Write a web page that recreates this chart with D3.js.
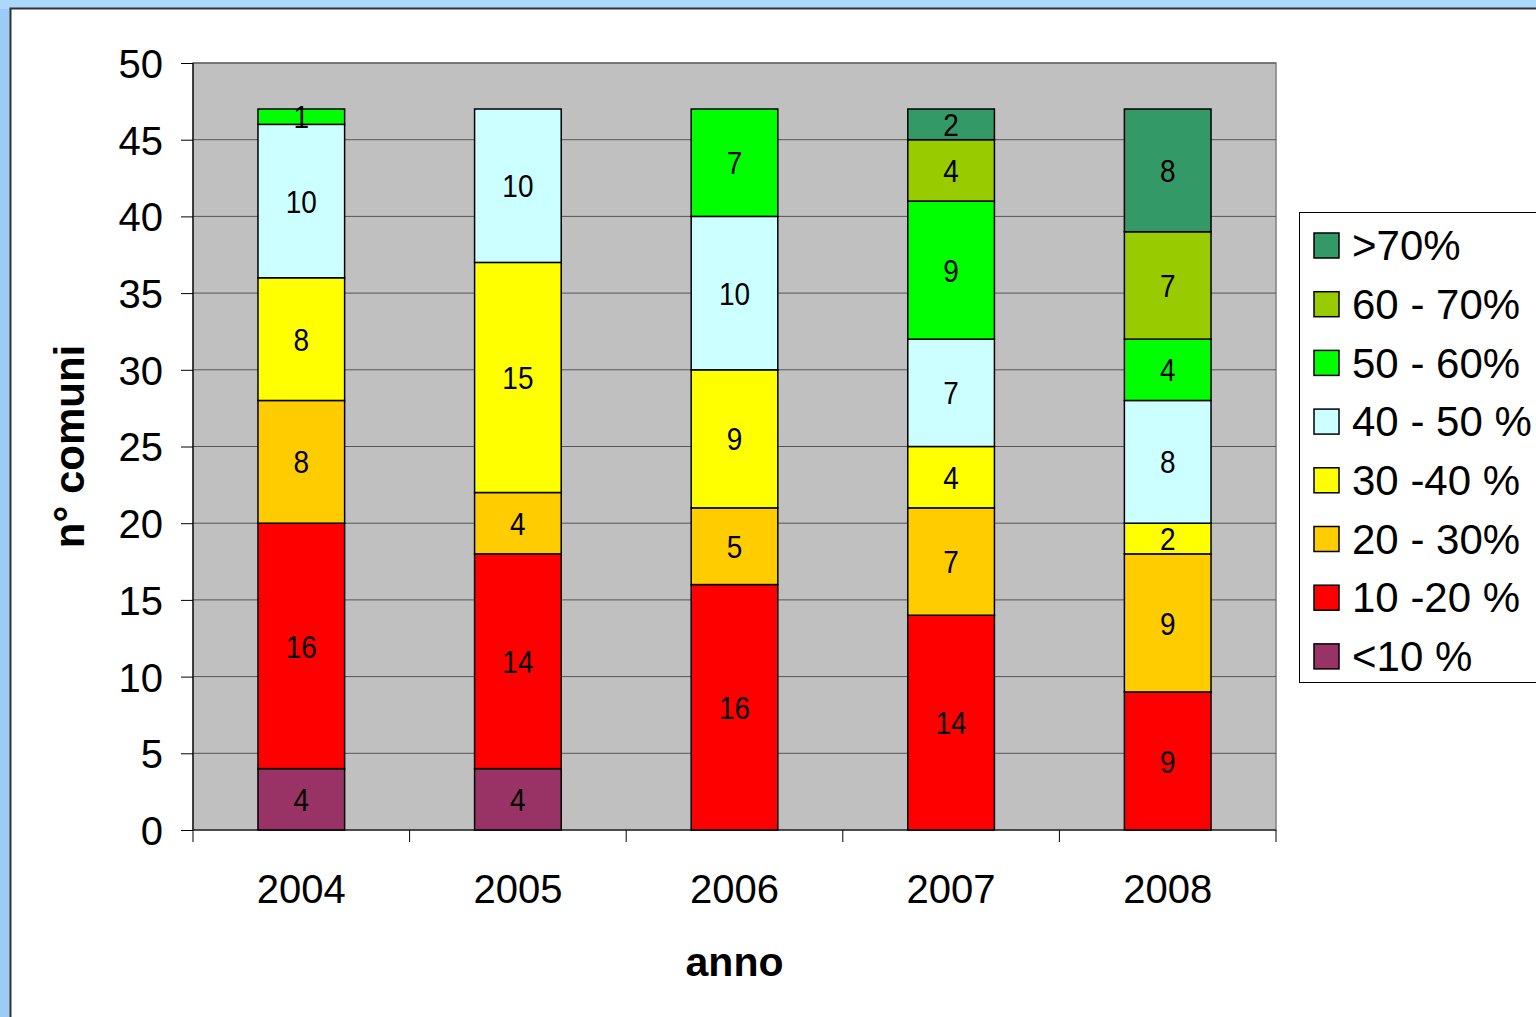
<!DOCTYPE html>
<html><head><meta charset="utf-8">
<script src="https://cdn.jsdelivr.net/npm/d3@7"></script>
<style>html,body{margin:0;padding:0;background:#9CCBF8;}svg{display:block;}</style>
</head><body>
<svg id="c" width="1536" height="1017"></svg>
<script>
const years = ["2004","2005","2006","2007","2008"];
const classes = ["<10 %","10 -20 %","20 - 30%","30 -40 %","40 - 50 %","50 - 60%","60 - 70%",">70%"];
const colors = ["#993366","#FF0000","#FFCC00","#FFFF00","#CCFFFF","#00FF00","#99CC00","#339966"];
const v_lt10   = [4,4,0,0,0];
const v_10_20  = [16,14,16,14,9];
const v_20_30  = [8,4,5,7,9];
const v_30_40  = [8,15,9,4,2];
const v_40_50  = [10,10,10,7,8];
const v_50_60  = [1,0,7,9,4];
const v_60_70  = [0,0,0,4,7];
const v_gt70   = [0,0,0,2,8];
const yTicks = [0,5,10,15,20,25,30,35,40,45,50];
const series = [v_lt10,v_10_20,v_20_30,v_30_40,v_40_50,v_50_60,v_60_70,v_gt70];

const rows = years.map((y,i)=>{const r={year:y};classes.forEach((c,k)=>r[c]=series[k][i]);return r;});
const stack = d3.stack().keys(classes)(rows);
const FONT = "Liberation Sans, Arial, sans-serif";

const svg = d3.select("#c");
svg.append("rect").attr("x",0).attr("y",0).attr("width",1536).attr("height",1017).attr("fill","#9CCBF8");
svg.append("rect").attr("x",0).attr("y",0).attr("width",1536).attr("height",9).attr("fill","#ADD8FD");
svg.append("rect").attr("x",10.5).attr("y",8.5).attr("width",1540).attr("height",1020).attr("fill","#fff").attr("stroke","#333").attr("stroke-width",2);

const L=193,R=1276,T=63,B=830;
const x = d3.scaleBand().domain(years).range([L,R]).paddingInner(0.6).paddingOuter(0.3);
const y = d3.scaleLinear().domain([0,50]).range([B,T]);

svg.append("rect").attr("x",L).attr("y",T).attr("width",R-L).attr("height",B-T).attr("fill","#C0C0C0").attr("stroke","#808080").attr("stroke-width",1.5);

svg.append("g").selectAll("line").data(yTicks.filter(t=>t>0)).join("line")
 .attr("x1",L).attr("x2",R).attr("y1",d=>y(d)).attr("y2",d=>y(d)).attr("stroke","#555").attr("stroke-width",1);

const ya = svg.append("g").attr("transform",`translate(${L},0)`).call(d3.axisLeft(y).tickValues(yTicks).tickSize(12).tickPadding(18));
ya.select(".domain").attr("stroke","#000").attr("stroke-width",1.2).attr("d",`M0,${T}V${B}`);
ya.selectAll(".tick line").attr("stroke","#000");
ya.selectAll("text").attr("font-family",FONT).attr("font-size",40).attr("fill","#000").attr("dy","0.36em");

const xa = svg.append("g").attr("transform",`translate(0,${B})`).call(d3.axisBottom(x).tickSize(0).tickPadding(45));
xa.select(".domain").attr("stroke","#000").attr("stroke-width",1.2).attr("d",`M${L},0H${R}`);
xa.selectAll("text").attr("font-family",FONT).attr("font-size",40).attr("fill","#000");
const bounds = d3.range(6).map(i=>L+i*(R-L)/5);
svg.append("g").selectAll("line").data(bounds).join("line")
 .attr("x1",d=>d).attr("x2",d=>d).attr("y1",B).attr("y2",B+12).attr("stroke","#000");

const g = svg.append("g");
stack.forEach((s,k)=>{
  g.append("g").selectAll("rect").data(s.filter(d=>d[1]-d[0]>0)).join("rect")
   .attr("x",d=>x(d.data.year)).attr("width",x.bandwidth())
   .attr("y",d=>y(d[1])).attr("height",d=>y(d[0])-y(d[1]))
   .attr("fill",colors[k]).attr("stroke","#000").attr("stroke-width",1.5);
});
stack.forEach((s,k)=>{
  g.append("g").selectAll("text").data(s.filter(d=>d[1]-d[0]>0)).join("text")
   .attr("transform",d=>`translate(${x(d.data.year)+x.bandwidth()/2},${y((d[0]+d[1])/2)}) scale(1,1.15)`)
   .attr("text-anchor","middle").attr("dy","0.36em")
   .attr("font-family",FONT).attr("font-size",28)
   .text(d=>d[1]-d[0]);
});

svg.append("text").attr("transform",`translate(84,${(T+B)/2}) rotate(-90)`).attr("text-anchor","middle")
 .attr("font-family",FONT).attr("font-weight","bold").attr("font-size",42).text("n° comuni");
svg.append("text").attr("x",(L+R)/2).attr("y",976).attr("text-anchor","middle")
 .attr("font-family",FONT).attr("font-weight","bold").attr("font-size",41).text("anno");

const lg = svg.append("g");
lg.append("rect").attr("x",1299.5).attr("y",212.5).attr("width",260).attr("height",470).attr("fill","#fff").attr("stroke","#000").attr("stroke-width",1);
const legOrder = d3.range(classes.length).reverse();
legOrder.forEach((k,i)=>{
  const cy = 245 + i*58.7;
  lg.append("rect").attr("x",1314).attr("y",cy-12).attr("width",25).attr("height",25).attr("fill",colors[k]).attr("stroke","#000").attr("stroke-width",1.5);
  lg.append("text").attr("x",1352).attr("y",cy).attr("dy","0.36em")
   .attr("font-family",FONT).attr("font-size",42).text(classes[k]);
});
</script>
</body></html>
